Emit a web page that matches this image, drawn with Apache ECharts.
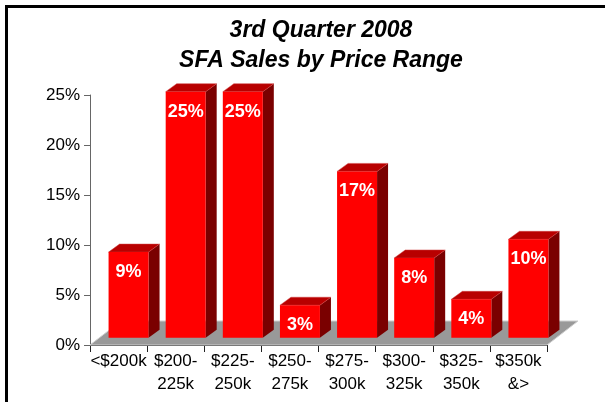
<!DOCTYPE html>
<html>
<head>
<meta charset="utf-8">
<script src="https://cdn.jsdelivr.net/npm/echarts@6/dist/echarts.min.js"></script>
<style>
  html, body { margin: 0; padding: 0; background: #fff; }
  #chart { width: 605px; height: 402px; }
</style>
</head>
<body>
<div id="chart"></div>
<script>
// price ranges
var categories = ['<$200k', '$200-\n225k', '$225-\n250k', '$250-\n275k', '$275-\n300k', '$300-\n325k', '$325-\n350k', '$350k\n&>'];
// share of sales (%)
var shares = [8.7, 25, 25, 3.3, 16.9, 8.1, 3.9, 10];
var yTicks = [0, 5, 10, 15, 20, 25];

var FONT = '"Liberation Sans", Arial, sans-serif';
// 3d look
var DX = 11, DY = 8;

var chart = echarts.init(document.getElementById('chart'));

chart.setOption({
  backgroundColor: '#fff',
  animation: false,
  graphic: [
    {
      type: 'rect',
      shape: { x: 6.5, y: 6.5, width: 700, height: 600 },
      style: { fill: 'none', stroke: '#000', lineWidth: 3 },
      z: 0
    },
    {
      type: 'text',
      x: 321, y: 16,
      style: {
        text: '3rd Quarter 2008\nSFA Sales by Price Range',
        font: 'italic bold 23px ' + FONT,
        lineHeight: 30,
        fill: '#000',
        align: 'center'
      }
    }
  ],
  grid: { left: 90, right: 58, top: 95, bottom: 57 },
  xAxis: {
    type: 'category',
    data: categories,
    axisLine: { lineStyle: { color: '#222', width: 1 } },
    axisTick: { show: true, length: 7, lineStyle: { color: '#222' } },
    axisLabel: {
      interval: 0, margin: 5,
      fontFamily: FONT, fontSize: 17, lineHeight: 23, color: '#000'
    },
    splitLine: { show: false }
  },
  yAxis: {
    type: 'value',
    min: yTicks[0], max: yTicks[yTicks.length - 1], interval: 5,
    axisLine: { show: true, lineStyle: { color: '#666' } },
    axisTick: { show: true, length: 6, lineStyle: { color: '#666' } },
    axisLabel: {
      formatter: '{value}%', margin: 10,
      fontFamily: FONT, fontSize: 17, color: '#000'
    },
    splitLine: { show: false }
  },
  series: [
    {
      // floor
      type: 'custom',
      z: 1,
      data: [[0, 0]],
      renderItem: function (params, api) {
        var cs = params.coordSys;
        var y = cs.y + cs.height;
        return {
          type: 'polygon',
          shape: { points: [[cs.x, y], [cs.x + cs.width, y], [cs.x + cs.width + 31, y - 24], [cs.x + 31, y - 24]] },
          style: { fill: '#999999', stroke: '#cfcfcf', lineWidth: 1 }
        };
      }
    },
    {
      type: 'custom',
      z: 2,
      data: shares.map(function (v, i) { return [i, v]; }),
      encode: { x: 0, y: 1 },
      renderItem: function (params, api) {
        var v = api.value(1);
        var base = api.coord([api.value(0), 0]);
        var top = api.coord([api.value(0), v]);
        var w = api.size([1, 0])[0] * 0.7;
        var h = (base[1] - top[1]) * 0.984;
        var x0 = base[0] - w / 2 + 10;
        var y0 = base[1] - 7.3;
        var yt = y0 - h;
        return {
          type: 'group',
          children: [
            {
              type: 'polygon',
              shape: { points: [[x0 + w, yt], [x0 + w + DX, yt - DY], [x0 + w + DX, y0 - DY], [x0 + w, y0]] },
              style: { fill: '#7a0000' }
            },
            {
              type: 'polygon',
              shape: { points: [[x0, yt], [x0 + DX, yt - DY], [x0 + w + DX, yt - DY], [x0 + w, yt]] },
              style: { fill: '#b80000', stroke: '#d04040', lineWidth: 0.5 }
            },
            {
              type: 'rect',
              shape: { x: x0, y: yt, width: w, height: h },
              style: { fill: '#ff0000' }
            },
            {
              type: 'text',
              x: x0 + w / 2, y: yt + 20,
              style: {
                text: Math.round(v) + '%',
                font: 'bold 18px ' + FONT,
                fill: '#fff',
                align: 'center',
                verticalAlign: 'middle'
              }
            }
          ]
        };
      }
    }
  ]
});
</script>
</body>
</html>
